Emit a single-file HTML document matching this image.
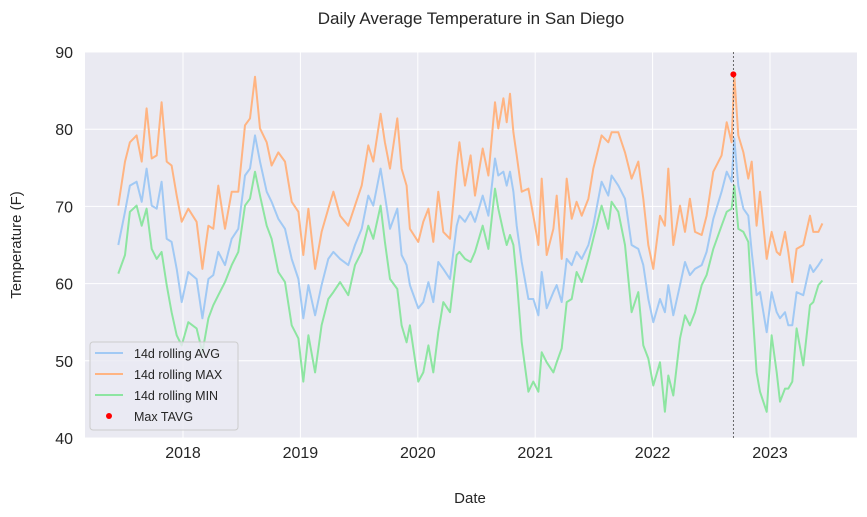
<!DOCTYPE html>
<html><head><meta charset="utf-8">
<style>
html,body{margin:0;padding:0;background:#fff;}
svg{display:block;font-family:"Liberation Sans",Arial,sans-serif;}
</style></head>
<body>
<svg id="chart" width="867" height="517" viewBox="0 0 867 517">
  <rect x="0" y="0" width="867" height="517" fill="#ffffff"/>
  <text x="471" y="24" text-anchor="middle" font-size="17" fill="#262626">Daily Average Temperature in San Diego</text>
  <rect x="85" y="52" width="772" height="386" fill="#eaeaf2"/>
  <g id="grid"></g>
  <g id="series"></g>
  <g id="ticks"></g>
  <text x="470" y="503" text-anchor="middle" font-size="15" fill="#262626">Date</text>
  <text x="0" y="0" transform="translate(21,245) rotate(-90)" text-anchor="middle" font-size="15" fill="#262626">Temperature (F)</text>
  <g id="legend">
    <rect x="90" y="342" width="148" height="88" rx="3" fill="#eaeaf2" fill-opacity="0.8" stroke="#cccccc"/>
    <line x1="95" y1="353" x2="123" y2="353" stroke="#a1c9f4" stroke-width="2"/>
    <text x="134" y="358" font-size="12.5" fill="#262626">14d rolling AVG</text>
    <line x1="95" y1="374" x2="123" y2="374" stroke="#ffb482" stroke-width="2"/>
    <text x="134" y="379" font-size="12.5" fill="#262626">14d rolling MAX</text>
    <line x1="95" y1="395" x2="123" y2="395" stroke="#8de5a1" stroke-width="2"/>
    <text x="134" y="400" font-size="12.5" fill="#262626">14d rolling MIN</text>
    <circle cx="109" cy="416" r="3" fill="#ff0000"/>
    <text x="134" y="421" font-size="12.5" fill="#262626">Max TAVG</text>
  </g>
</svg>
<script>
const dates = [2017.449,2017.506,2017.548,2017.605,2017.648,2017.690,2017.733,2017.776,2017.818,2017.861,2017.903,2017.946,2017.989,2018.045,2018.116,2018.165,2018.216,2018.258,2018.301,2018.358,2018.415,2018.471,2018.528,2018.571,2018.613,2018.656,2018.713,2018.755,2018.812,2018.869,2018.926,2018.983,2019.025,2019.068,2019.125,2019.181,2019.238,2019.281,2019.338,
2019.408,2019.465,2019.522,2019.578,2019.621,2019.683,2019.720,2019.763,2019.825,2019.862,2019.905,2019.933,2020.004,2020.047,2020.090,2020.132,2020.175,2020.217,2020.274,2020.331,2020.354,2020.402,2020.450,2020.487,2020.553,2020.601,2020.658,2020.686,2020.729,2020.757,2020.785,2020.814,2020.842,2020.885,2020.942,2020.984,2021.027,2021.055,2021.098,2021.155,2021.183,2021.226,2021.268,2021.311,2021.353,2021.396,2021.453,2021.495,
2021.566,2021.623,2021.651,2021.708,2021.765,2021.821,2021.878,2021.921,2021.963,2022.006,2022.063,2022.105,2022.134,2022.176,2022.233,2022.276,2022.318,2022.361,2022.418,2022.460,2022.517,2022.588,2022.631,2022.673,2022.696,2022.730,2022.773,2022.815,2022.844,2022.886,2022.915,2022.972,2023.014,2023.057,2023.085,2023.128,2023.156,2023.190,2023.227,2023.284,2023.341,2023.369,2023.412,2023.446];
const maxVals = [70.1,75.8,78.3,79.2,75.8,82.7,76.2,76.6,83.5,75.8,75.3,71.4,68,69.7,68,61.9,67.5,67.1,72.7,67.1,71.9,71.9,80.5,81.4,86.8,80.1,78.3,75.3,77,75.8,70.6,69.3,63.7,69.7,61.9,66.7,69.7,71.9,68.8,
67.5,70.1,72.7,77.9,75.8,82,78.3,74.9,81.4,74.9,72.7,67.1,65.4,68,69.7,65.4,71.9,66.7,65.8,75.3,78.3,72.7,76.6,71.4,77.5,74,83.5,80.1,84,80.9,84.6,79.6,76.6,71.9,72.3,68.8,65,73.6,63.7,67.1,71.4,63.2,73.6,68.4,70.6,68.8,71,74.9,
79.2,78.3,79.6,79.6,77,73.6,75.8,71,65,61.9,68.8,67.5,74.9,65,70.1,66.7,71,66.7,66.3,68.8,74.5,76.6,80.9,78.3,87,79.2,77,73.6,75.8,67.5,71.9,63.2,66.7,64.1,63.7,66.7,64.1,60.2,64.5,65,68.8,66.7,66.7,67.8];
const avgVals = [65,69.3,72.7,73.2,70.6,74.9,70.1,69.7,73.2,65.8,65.4,61.9,57.6,61.5,60.6,55.5,60.6,61.1,64.1,62.4,65.8,67.1,74,74.9,79.2,75.8,71.9,70.6,68.4,67.1,63.2,60.6,55.5,59.8,55.9,59.8,63.2,64.1,63.2,
62.4,65,67.1,71.4,70.1,74.9,71.4,67.1,69.7,63.7,62.4,59.8,56.8,57.6,60.2,57.6,62.8,61.9,60.6,67.5,68.8,68,69.3,68,71.4,68.8,76.2,74,74.5,72.7,74.5,71.9,67.5,62.8,58,58,55.9,61.5,56.8,58.9,59.8,57.6,63.2,62.4,64.1,63.2,65,67.5,
73.2,71.4,74,72.7,71,65,64.5,62.4,58,55,58,56.3,59.8,55.9,59.8,62.8,61.1,61.9,62.4,64.1,68.4,71.9,74.5,73.2,78.8,72.7,69.7,68.8,64.1,58.5,58.9,53.7,58.9,56.3,55.5,56.3,54.6,54.6,58.9,58.5,62.4,61.5,62.4,63.2];
const minVals = [61.3,63.7,69.3,70.1,67.5,69.7,64.5,63.2,64.1,59.8,56.3,53.3,52,55,54.2,51.1,55.5,57.2,58.5,60.2,62.4,64.1,70.1,71,74.5,71.4,67.5,65.8,61.5,60.2,54.6,52.9,47.3,53.3,48.5,54.6,58,58.9,60.2,
58.5,62.4,64.1,67.5,65.8,70.1,65.4,60.6,59.3,54.6,52.4,54.6,47.3,48.5,52,48.5,53.7,57.6,56.3,63.7,64.1,63.2,62.8,64.1,67.5,64.5,72.3,69.7,66.7,65,66.3,65,60.6,52.4,46,47.3,46,51.1,49.8,48.5,49.8,51.6,57.6,58,61.5,60.2,63.2,65.8,
70.1,67.1,70.6,69.3,65,56.3,58.9,52,50.3,46.8,49.8,43.4,48.1,45.5,52.9,55.9,54.6,56.3,59.8,61.1,64.5,67.5,69.3,69.7,72.7,67.1,66.7,65.4,58,48.5,46,43.4,53.3,48.5,44.7,46.4,46.4,47.3,54.2,49.4,57.2,57.6,59.8,60.4];
const peakDate = [2022.688];
const peakVal = [87.1];
const yTicks = [40,50,60,70,80,90];
const xTicks = [2018,2019,2020,2021,2022,2023];

const NS = 'http://www.w3.org/2000/svg';
const X0 = 85, X1 = 857, Y0 = 438, Y1 = 52;
function xScale(t){ return 183 + (t - 2018) * 117.4; }
function yScale(v){ return Y0 - (v - 40) / 50 * (Y0 - Y1); }
function mk(tag, attrs, parent){ const e = document.createElementNS(NS, tag); for (const k in attrs) e.setAttribute(k, attrs[k]); parent.appendChild(e); return e; }

const grid = document.getElementById('grid');
const ticks = document.getElementById('ticks');
yTicks.forEach(v => {
  const y = yScale(v);
  const l = mk('line', {x1:X0, x2:X1, y1:y, y2:y, stroke:'#ffffff', 'stroke-width':1}, grid);
  
  
  const t = mk('text', {x:73, y:y+6, 'text-anchor':'end', 'font-size':16, fill:'#262626'}, ticks);
  t.textContent = v;
  
  
});
xTicks.forEach(v => {
  const x = xScale(v);
  const l = mk('line', {x1:x, x2:x, y1:Y1, y2:Y0, stroke:'#ffffff', 'stroke-width':1}, grid);
  
  
  const t = mk('text', {x:x, y:458, 'text-anchor':'middle', 'font-size':16, fill:'#262626'}, ticks);
  t.textContent = v;
  
  
});

const series = document.getElementById('series');
function drawLine(vals, color, name){
  const d = vals.map((v,i) => (i ? 'L' : 'M') + xScale(dates[i]).toFixed(1) + ',' + yScale(v).toFixed(1)).join(' ');
  const p = mk('path', {d:d, fill:'none', stroke:color, 'stroke-width':2, 'stroke-linejoin':'round'}, series);
  
  
}
drawLine(avgVals, '#a1c9f4', 'avg-line');
drawLine(maxVals, '#ffb482', 'max-line');
drawLine(minVals, '#8de5a1', 'min-line');

const vl = mk('line', {x1:xScale(peakDate[0]), x2:xScale(peakDate[0]), y1:Y1, y2:Y0, stroke:'#444', 'stroke-width':0.8, 'stroke-dasharray':'2,2'}, series);


const pt = mk('circle', {cx:xScale(peakDate[0]), cy:yScale(peakVal[0]), r:3, fill:'#ff0000'}, series);


</script>
</body></html>
